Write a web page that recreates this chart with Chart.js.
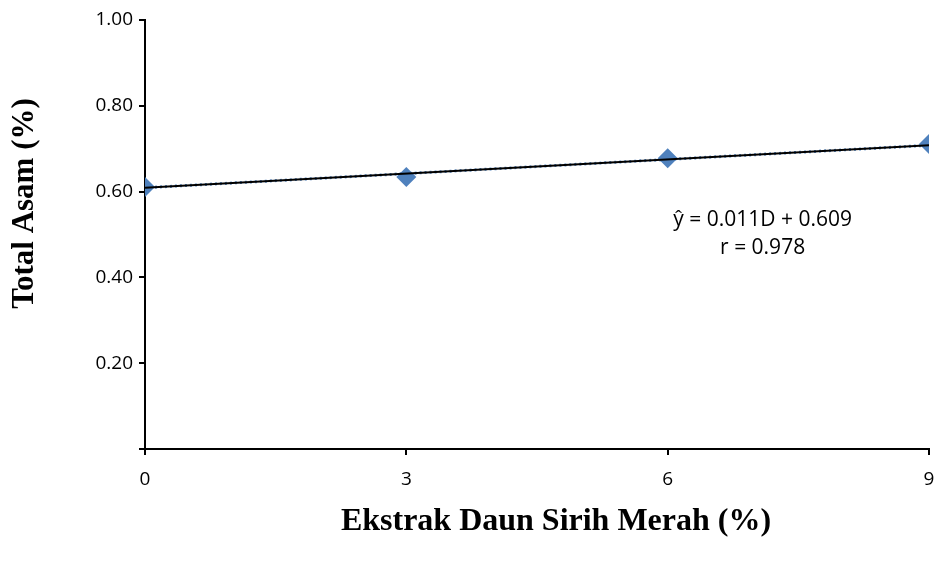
<!DOCTYPE html>
<html lang="id">
<head>
  <meta charset="UTF-8">
  <title>Total Asam</title>
  <script src="https://cdn.jsdelivr.net/npm/chart.js"></script>
  <style>
    html, body { margin: 0; padding: 0; background: #fff; }
    #wrap { width: 934px; height: 567px; }
  </style>
</head>
<body>
  <div id="wrap"><canvas id="chart"></canvas></div>
  <script>
    // data
    const konsentrasi = [0, 3, 6, 9];
    const totalAsam = [0.611, 0.634, 0.678, 0.711];
    // regression line ŷ = 0.011D + 0.609, ends at D = 0 and D = 9
    const trendX = [0, 9];
    const trendY = [0.609, 0.708];
    const xTicks = [0, 3, 6, 9];
    const yTicks = [0, 0.2, 0.4, 0.6, 0.8, 1.0];
    const persamaan = ['ŷ = 0.011D + 0.609', 'r = 0.978'];
    const labelPos = { x: 7.09, y: [0.534, 0.469] };

    const toPts = (xs, ys) => xs.map((x, i) => ({ x: x, y: ys[i] }));

    // axis titles and equation text
    const textPlugin = {
      id: 'textPlugin',
      afterDraw(chart) {
        const ctx = chart.ctx;
        const a = chart.chartArea;
        const sx = chart.scales.x, sy = chart.scales.y;
        ctx.save();
        ctx.fillStyle = '#000';
        ctx.textAlign = 'center';
        ctx.textBaseline = 'middle';

        ctx.font = '21px "Open Sans", sans-serif';
        const px = sx.getPixelForValue(labelPos.x);
        persamaan.forEach((t, i) => {
          ctx.fillText(t, px, sy.getPixelForValue(labelPos.y[i]));
        });

        ctx.font = 'bold 32px "Liberation Serif", serif';
        ctx.fillText('Ekstrak Daun Sirih Merah (%)', (a.left + a.right) / 2 + 19, 522);

        ctx.font = 'bold 31px "Liberation Serif", serif';
        ctx.translate(25, (a.top + a.bottom) / 2 - 31);
        ctx.rotate(-Math.PI / 2);
        ctx.fillText('Total Asam (%)', 0, 0);
        ctx.restore();
      }
    };

    new Chart(document.getElementById('chart'), {
      type: 'scatter',
      data: {
        datasets: [
          {
            label: 'garis regresi',
            data: toPts(trendX, trendY),
            showLine: true,
            borderColor: '#000',
            borderWidth: 2,
            pointRadius: 0,
            order: 0
          },
          {
            label: 'trendline',
            data: toPts(trendX, trendY),
            showLine: true,
            borderColor: '#4F81BD',
            borderWidth: 3,
            borderDash: [2, 3],
            pointRadius: 0,
            order: 1
          },
          {
            label: 'Total Asam',
            data: toPts(konsentrasi, totalAsam),
            showLine: false,
            pointStyle: 'rectRot',
            pointRadius: 10,
            pointBackgroundColor: '#4F81BD',
            pointBorderColor: '#4F81BD',
            pointBorderWidth: 0,
            order: 2
          }
        ]
      },
      options: {
        responsive: true,
        maintainAspectRatio: false,
        animation: false,
        layout: { autoPadding: false, padding: { left: 0, top: 20, right: 5, bottom: 0 } },
        plugins: {
          legend: { display: false },
          tooltip: { enabled: false }
        },
        scales: {
          x: {
            type: 'linear',
            min: 0,
            max: 9,
            afterBuildTicks: s => { s.ticks = xTicks.map(v => ({ value: v })); },
            afterFit: s => { s.height = 118; s.paddingLeft = 0; s.paddingRight = 0; },
            border: { display: true, color: '#000', width: 2 },
            grid: { drawOnChartArea: false, drawTicks: true, tickLength: 6, color: '#000', lineWidth: 2 },
            ticks: {
              color: '#000',
              padding: 13,
              maxRotation: 0,
              font: { family: '"Open Sans", sans-serif', size: 19 }
            }
          },
          y: {
            type: 'linear',
            min: 0,
            max: 1,
            afterBuildTicks: s => { s.ticks = yTicks.map(v => ({ value: v })); },
            afterFit: s => { s.width = 145; s.paddingTop = 0; s.paddingBottom = 0; },
            border: { display: true, color: '#000', width: 2 },
            grid: { drawOnChartArea: false, drawTicks: true, tickLength: 6, color: '#000', lineWidth: 2 },
            ticks: {
              color: '#000',
              padding: 6,
              font: { family: '"Open Sans", sans-serif', size: 19 },
              callback: v => (v === 0 ? '' : v.toFixed(2))
            }
          }
        }
      },
      plugins: [textPlugin]
    });
  </script>
</body>
</html>
